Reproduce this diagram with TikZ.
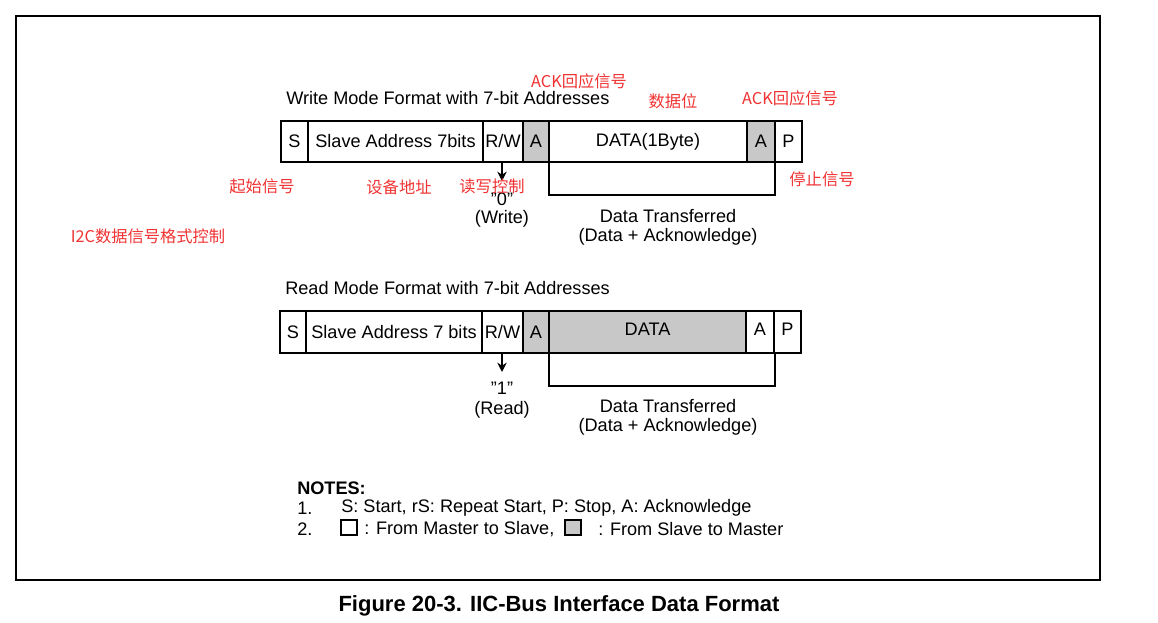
\documentclass[tikz,border=0pt]{standalone}
\usepackage{fontspec}
\usetikzlibrary{arrows.meta}
\setmainfont{Liberation Sans}
\newfontfamily\cjk{Noto Sans CJK SC}
\definecolor{redlab}{RGB}{240,50,50}
\definecolor{cellgray}{RGB}{200,200,200}
\begin{document}
\begin{tikzpicture}[x=0.75pt,y=-0.75pt,
  cell/.style={draw,line width=1.4pt},
  gcell/.style={cell,fill=cellgray},
  txt/.style={font=\fontsize{13.6}{15}\selectfont,inner sep=0},
  red/.style={font=\cjk\fontsize{12.2}{14}\selectfont,text=redlab,inner sep=0},
  arr/.style={line width=1.4pt,-{Stealth[length=7pt,width=7pt]}}]
\useasboundingbox (0,0) rectangle (1158,623);
\draw[line width=1pt] (16,16) rectangle (1100,580);
% write row
\draw[cell] (281,121) rectangle (308,162) node[midway,txt] (w1) {S};
\draw[cell] (308,121) rectangle (483,162) node[midway,txt] (w2) {Slave Address 7bits};
\draw[cell] (483,121) rectangle (523,162) node[midway,txt] (w3) {R/W};
\draw[gcell] (523,121) rectangle (549,162) node[midway,txt] (w4) {A};
\draw[cell] (549,121) rectangle (747,162) node[midway,txt] (w5) {DATA(1Byte)};
\draw[gcell] (747,121) rectangle (775,162) node[midway,txt] (w6) {A};
\draw[cell] (775,121) rectangle (802,162) node[midway,txt] (w7) {P};
\draw[line width=1.4pt] (549,162) -- (549,195) -- (775,195) -- (775,162);
\coordinate (wa) at (502,162); \coordinate (wb) at (502,181);
\draw[arr] (wa) -- (wb);
\node[txt,anchor=west] (wt) at (286,98) {Write Mode Format with 7-bit Addresses};
\node[txt] (w0) at (502,199) {\symbol{34}0\symbol{34}};
\node[txt] (ww) at (502,219) {(Write)};
\node[txt] (wd1) at (668,216) {Data Transferred};
\node[txt] (wd2) at (668,237) {(Data + Acknowledge)};
% red labels
\node[red] (r1) at (579,81) {ACK回应信号};
\node[red] (r2) at (673,101) {数据位};
\node[red] (r3) at (790,98) {ACK回应信号};
\node[red] (r4) at (262,186) {起始信号};
\node[red] (r5) at (399,187) {设备地址};
\node[red] (r6) at (492,186) {读写控制};
\node[red] (r7) at (822,179) {停止信号};
\node[red] (r8) at (148,236) {I2C数据信号格式控制};
% read row
\draw[cell] (280,311) rectangle (306,353) node[midway,txt] (d1) {S};
\draw[cell] (306,311) rectangle (482,353) node[midway,txt] (d2) {Slave Address 7 bits};
\draw[cell] (482,311) rectangle (523,353) node[midway,txt] (d3) {R/W};
\draw[gcell] (523,311) rectangle (549,353) node[midway,txt] (d4) {A};
\draw[gcell] (549,311) rectangle (746,353) node[midway,txt,yshift=2pt] (d5) {DATA};
\draw[cell] (746,311) rectangle (774,353) node[midway,txt,yshift=2pt] (d6) {A};
\draw[cell] (774,311) rectangle (801,353) node[midway,txt,yshift=2pt] (d7) {P};
\draw[line width=1.4pt] (549,353) -- (549,386) -- (775,386) -- (775,353);
\coordinate (ra) at (502,353); \coordinate (rb) at (502,372);
\draw[arr] (ra) -- (rb);
\node[txt,anchor=west] (rt) at (285,288) {Read Mode Format with 7-bit Addresses};
\node[txt] (r0) at (502,388) {\symbol{34}1\symbol{34}};
\node[txt] (rr) at (502,410) {(Read)};
\node[txt] (rd1) at (668,406) {Data Transferred};
\node[txt] (rd2) at (668,427) {(Data + Acknowledge)};
% notes
\node[txt,anchor=west,font=\bfseries\fontsize{13.6}{15}\selectfont] (n0) at (297,488) {NOTES:};
\node[txt,anchor=west] (n1) at (297,508) {1.};
\node[txt,anchor=west] (n1t) at (341,508) {S: Start, rS: Repeat Start, P: Stop, A: Acknowledge};
\node[txt,anchor=west] (n2) at (297,529) {2.};
\draw[line width=1.6pt] (341,520) rectangle (357,535);
\node[txt,anchor=west] (n2a) at (364,529) {: From Master to Slave,};
\draw[line width=1.6pt,fill=cellgray] (565,520) rectangle (581,535);
\node[txt,anchor=west] (n2b) at (598,529) {: From Slave to Master};
\node[inner sep=0,font=\bfseries\fontsize{16.5}{18}\selectfont] (cap) at (559,606) {Figure 20-3. IIC-Bus Interface Data Format};
\end{tikzpicture}
\end{document}
